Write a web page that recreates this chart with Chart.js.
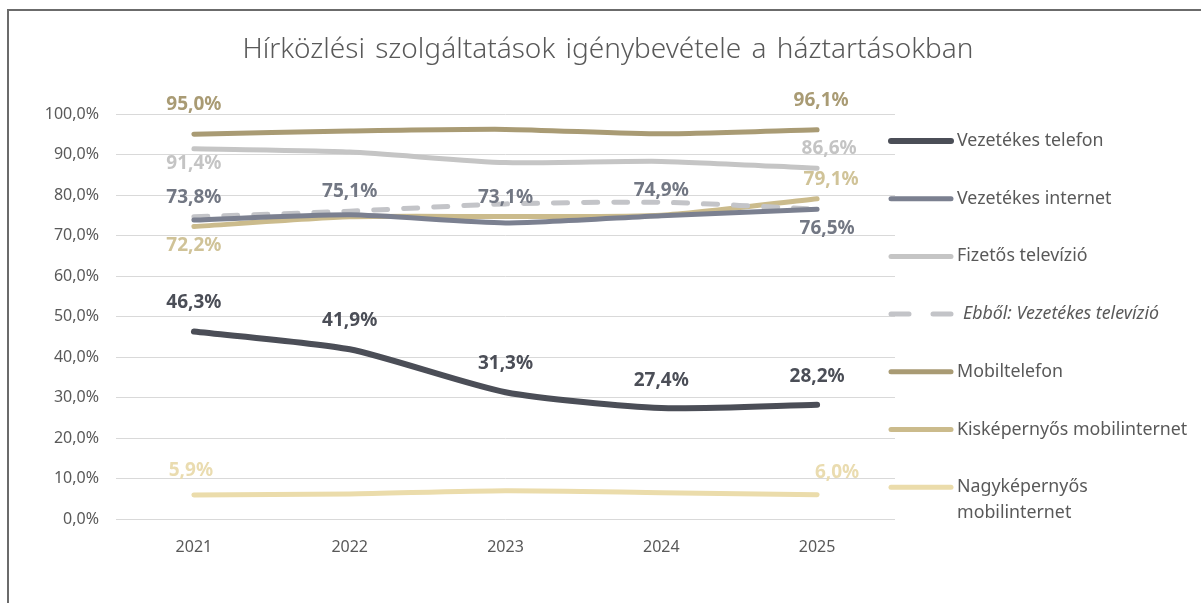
<!DOCTYPE html>
<html>
<head>
<meta charset="utf-8">
<script src="https://cdn.jsdelivr.net/npm/chart.js@4.4.0/dist/chart.umd.min.js"></script>
<style>
  html, body { margin: 0; padding: 0; background: #ffffff; }
  #wrap { position: relative; width: 1201px; height: 603px; }
</style>
</head>
<body>
<div id="wrap"><canvas id="hirkozlesChart" width="1201" height="603"></canvas></div>
<script>
const chartTitle = "Hírközlési szolgáltatások igénybevétele a háztartásokban";
const years = ["2021", "2022", "2023", "2024", "2025"];

const vezetekesTelefon = [46.3, 41.9, 31.3, 27.4, 28.2];
const vezetekesInternet = [73.8, 75.1, 73.1, 74.9, 76.5];
const fizetosTelevizio = [91.4, 90.6, 88.0, 88.3, 86.6];
const vezetekesTelevizio = [74.6, 76.0, 77.8, 78.2, 76.5];
const mobiltelefon = [95.0, 95.8, 96.2, 95.1, 96.1];
const kiskepernyosNet = [72.2, 74.6, 74.7, 75.0, 79.1];
const nagykepernyosNet = [5.9, 6.2, 7.0, 6.5, 6.0];

const seriesNames = [
  "Vezetékes telefon",
  "Vezetékes internet",
  "Fizetős televízió",
  "Ebből: Vezetékes televízió",
  "Mobiltelefon",
  "Kisképernyős mobilinternet",
  "Nagyképernyős mobilinternet",
];
// legend text, with the manual line break of the last entry
const legendNames = [
  ["Vezetékes telefon"],
  ["Vezetékes internet"],
  ["Fizetős televízió"],
  ["Ebből: Vezetékes televízió"],
  ["Mobiltelefon"],
  ["Kisképernyős mobilinternet"],
  ["Nagyképernyős", "mobilinternet"],
];

const yTicks = { min: 0, max: 100, step: 10 };

function fmtPct(v) {
  return v.toFixed(1).replace(".", ",") + "%";
}

const FONT = '"Noto Sans", "Open Sans", sans-serif';
const TEXT_GREY = "#595959";

function lineSet(label, data, color, width, extra) {
  return Object.assign(
    {
      label: label,
      data: data,
      borderColor: color,
      backgroundColor: color,
      borderWidth: width,
      borderCapStyle: "round",
      borderJoinStyle: "round",
      pointRadius: 0,
      pointHoverRadius: 0,
      tension: 0.22,
      fill: false,
    },
    extra || {}
  );
}

const datasets = [
  lineSet(seriesNames[0], vezetekesTelefon, "#4b4e57", 6, {
    labelColor: "#4b4e57",
    pointLabels: [
      { i: 0, dy: -29 },
      { i: 1, dy: -29 },
      { i: 2, dy: -29 },
      { i: 3, dy: -27 },
      { i: 4, dy: -28 },
    ],
  }),
  lineSet(seriesNames[1], vezetekesInternet, "#7b8090", 5, {
    labelColor: "#727783",
    pointLabels: [
      { i: 0, dy: -23 },
      { i: 1, dy: -23 },
      { i: 2, dy: -25 },
      { i: 3, dy: -25 },
      { i: 4, dy: 19, dx: 10 },
    ],
  }),
  lineSet(seriesNames[2], fizetosTelevizio, "#c5c5c5", 5, {
    labelColor: "#c4c4c4",
    pointLabels: [
      { i: 0, dy: 15 },
      { i: 4, dy: -20, dx: 12 },
    ],
  }),
  lineSet(seriesNames[3], vezetekesTelevizio, "#c3c4c8", 5, {
    borderDash: [14, 16],
    borderCapStyle: "round",
  }),
  lineSet(seriesNames[4], mobiltelefon, "#a99b74", 5, {
    labelColor: "#a99b74",
    pointLabels: [
      { i: 0, dy: -30 },
      { i: 4, dy: -29, dx: 4 },
    ],
  }),
  lineSet(seriesNames[5], kiskepernyosNet, "#cbbb8c", 5, {
    labelColor: "#d0c398",
    pointLabels: [
      { i: 0, dy: 19 },
      { i: 4, dy: -19, dx: 14 },
    ],
  }),
  lineSet(seriesNames[6], nagykepernyosNet, "#ebdcab", 5, {
    labelColor: "#eadcb0",
    pointLabels: [
      { i: 0, dy: -25, dx: -3 },
      { i: 4, dy: -22, dx: 20 },
    ],
  }),
];

// frame + title
const framePlugin = {
  id: "frame",
  beforeDraw(chart) {
    const ctx = chart.ctx;
    ctx.save();
    ctx.fillStyle = "#ffffff";
    ctx.fillRect(0, 0, chart.width, chart.height);
    ctx.strokeStyle = "#6b6b6b";
    ctx.lineWidth = 2;
    ctx.beginPath();
    ctx.moveTo(8, chart.height);
    ctx.lineTo(8, 10);
    ctx.lineTo(chart.width, 10);
    ctx.stroke();

    ctx.fillStyle = TEXT_GREY;
    ctx.font = "300 28px " + FONT;
    ctx.textAlign = "center";
    ctx.textBaseline = "middle";
    if ("wordSpacing" in ctx) ctx.wordSpacing = "3px";
    ctx.fillText(chartTitle, 608, 50);
    ctx.restore();
  },
};

// value labels next to selected points
const pointLabelPlugin = {
  id: "pointLabels",
  afterDatasetsDraw(chart) {
    const ctx = chart.ctx;
    ctx.save();
    ctx.font = "bold 19px " + FONT;
    ctx.textAlign = "center";
    ctx.textBaseline = "middle";
    chart.data.datasets.forEach((ds, di) => {
      if (!ds.pointLabels) return;
      const meta = chart.getDatasetMeta(di);
      ds.pointLabels.forEach((spec) => {
        const pt = meta.data[spec.i];
        ctx.fillStyle = ds.labelColor;
        ctx.fillText(fmtPct(ds.data[spec.i]), pt.x + (spec.dx || 0), pt.y + spec.dy);
      });
    });
    ctx.restore();
  },
};

// legend on the right, drawn by hand so the long lines and wrap match
const legendPlugin = {
  id: "sideLegend",
  afterDraw(chart) {
    const ctx = chart.ctx;
    const area = chart.chartArea;
    const x0 = area.right - 7;
    const x1 = x0 + 63;
    ctx.save();
    chart.data.datasets.forEach((ds, i) => {
      const y = area.top + 27 + i * 57.7;
      ctx.strokeStyle = ds.borderColor;
      ctx.lineWidth = ds.borderWidth;
      ctx.lineCap = "round";
      ctx.setLineDash(ds.borderDash ? [18, 24] : []);
      ctx.beginPath();
      ctx.moveTo(x0 + 3, y);
      ctx.lineTo(x1, y);
      ctx.stroke();
      ctx.setLineDash([]);

      const italic = !!ds.borderDash;
      ctx.font = (italic ? "italic " : "") + "17.8px " + FONT;
      ctx.fillStyle = TEXT_GREY;
      ctx.textAlign = "left";
      ctx.textBaseline = "middle";
      legendNames[i].forEach((line, k) => {
        ctx.fillText(line, x1 + 6 + (italic ? 6 : 0), y + k * 26);
      });
    });
    ctx.restore();
  },
};

const ctx = document.getElementById("hirkozlesChart").getContext("2d");

new Chart(ctx, {
  type: "line",
  data: {
    labels: years,
    datasets: datasets,
  },
  options: {
    responsive: false,
    animation: false,
    devicePixelRatio: 1,
    layout: {
      padding: { top: 114, right: 306, bottom: 0, left: 0 },
    },
    plugins: {
      legend: { display: false },
      title: { display: false },
      tooltip: { enabled: false },
    },
    scales: {
      x: {
        offset: true,
        grid: { display: false, drawTicks: false },
        border: { display: false },
        ticks: {
          color: TEXT_GREY,
          font: { family: FONT, size: 16 },
          padding: 19,
        },
        afterFit(scale) {
          scale.height = 84;
        },
      },
      y: {
        min: yTicks.min,
        max: yTicks.max,
        grid: { color: "#d9d9d9", lineWidth: 1, drawTicks: false },
        border: { display: false },
        ticks: {
          stepSize: yTicks.step,
          color: TEXT_GREY,
          font: { family: FONT, size: 16 },
          padding: 17,
          callback: function (value) {
            return fmtPct(value);
          },
        },
        afterFit(scale) {
          scale.width = 116;
        },
      },
    },
  },
  plugins: [framePlugin, pointLabelPlugin, legendPlugin],
});
</script>
</body>
</html>
